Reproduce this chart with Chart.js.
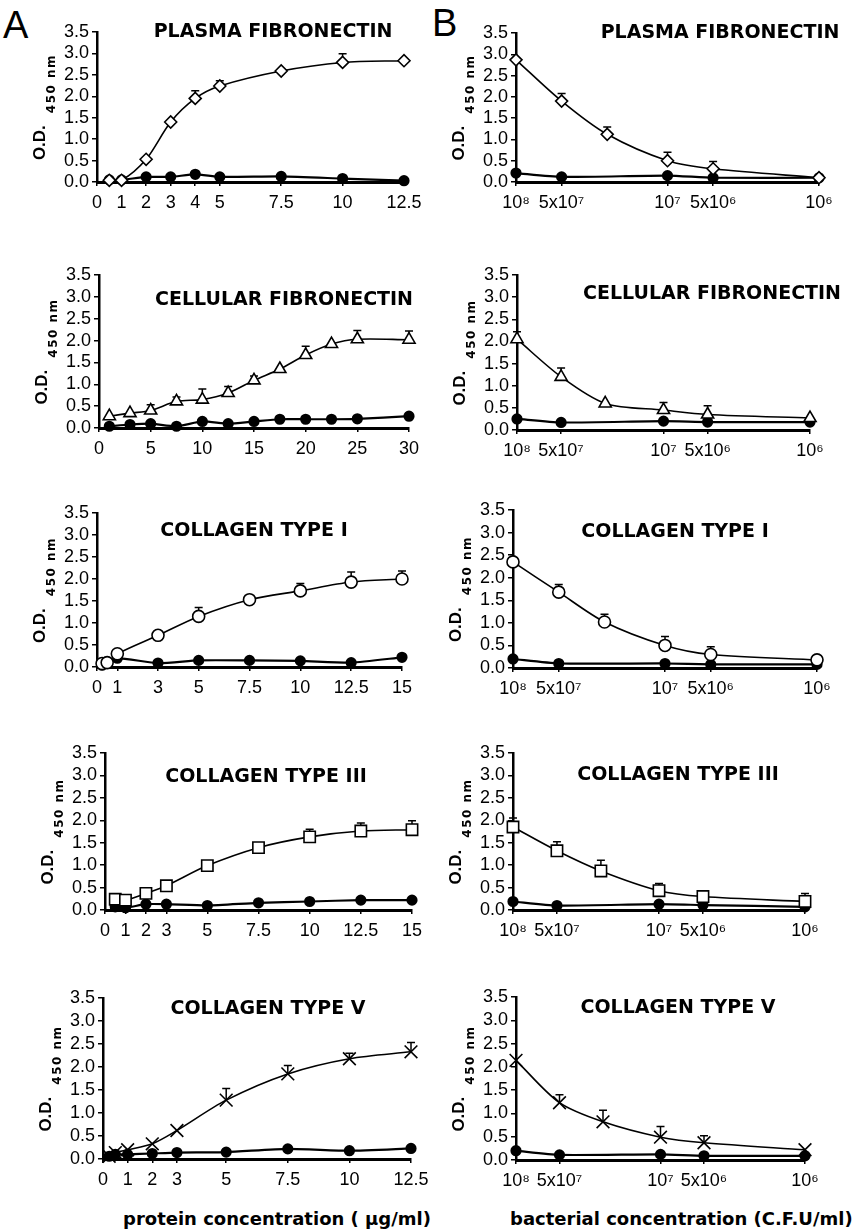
<!DOCTYPE html>
<html>
<head>
<meta charset="utf-8">
<title>Ligação a proteínas da matriz</title>
<script src="https://cdn.jsdelivr.net/npm/chart.js@4.4.1/dist/chart.umd.min.js"></script>
<style>
	body { margin: 0; background: #fff; }
	#figura { position: relative; width: 859px; height: 1232px; overflow: hidden; font-family: 'Liberation Sans', Arial, Helvetica, sans-serif; color: #000; }
	#figura canvas { position: absolute; }
	.letra { position: absolute; font-size: 38px; line-height: 44px; }
	.eixo { position: absolute; font-family: 'DejaVu Sans', sans-serif; font-size: 18px; font-weight: bold; line-height: 22px; white-space: nowrap; }
</style>
</head>
<body>
<div id="figura">
	<div class="letra" style="left:3px;top:3px">A</div>
	<div class="letra" style="left:432px;top:1px">B</div>
	<div class="eixo" style="left:123px;top:1208px">protein concentration ( µg/ml)</div>
	<div class="eixo" style="left:510px;top:1208px">bacterial concentration (C.F.U/ml)</div>
</div>
<script>
// ---- painel A: concentração de proteína (ug/ml) ----
var plasmaFnDoses    = [0.5, 1, 2, 3, 4, 5, 7.5, 10, 12.5];
var plasmaFnTicks    = [0, 1, 2, 3, 4, 5, 7.5, 10, 12.5];
var plasmaFnAmostra  = [0.04, 0.04, 0.53, 1.40, 1.95, 2.24, 2.59, 2.79, 2.83];
var plasmaFnErro     = [0, 0, 0, 0, 0.18, 0.12, 0, 0.2, 0];
var plasmaFnControle = [0.05, 0.05, 0.12, 0.12, 0.18, 0.12, 0.13, 0.08, 0.03];

var celularFnDoses    = [1, 3, 5, 7.5, 10, 12.5, 15, 17.5, 20, 22.5, 25, 30];
var celularFnTicks    = [0, 5, 10, 15, 20, 25, 30];
var celularFnAmostra  = [0.27, 0.34, 0.40, 0.61, 0.65, 0.80, 1.09, 1.35, 1.67, 1.92, 2.03, 2.02];
var celularFnErro     = [0, 0, 0.13, 0.1, 0.24, 0.15, 0.1, 0, 0.2, 0, 0.2, 0.2];
var celularFnControle = [0.04, 0.08, 0.1, 0.04, 0.15, 0.1, 0.15, 0.2, 0.2, 0.2, 0.21, 0.27];

var colTipo1Doses    = [0.25, 0.5, 1, 3, 5, 7.5, 10, 12.5, 15];
var colTipo1Ticks    = [0, 1, 3, 5, 7.5, 10, 12.5, 15];
var colTipo1Amostra  = [0.08, 0.1, 0.3, 0.72, 1.15, 1.53, 1.73, 1.93, 2.0];
var colTipo1Erro     = [0, 0, 0, 0, 0.2, 0, 0.17, 0.23, 0.18];
var colTipo1Controle = [0.04, 0.08, 0.2, 0.09, 0.15, 0.15, 0.14, 0.1, 0.22];

var colTipo3Doses    = [0.5, 1, 2, 3, 5, 7.5, 10, 12.5, 15];
var colTipo3Ticks    = [0, 1, 2, 3, 5, 7.5, 10, 12.5, 15];
var colTipo3Amostra  = [0.24, 0.22, 0.37, 0.54, 0.99, 1.39, 1.63, 1.76, 1.79];
var colTipo3Erro     = [0, 0, 0, 0, 0, 0, 0.17, 0.18, 0.2];
var colTipo3Controle = [0.07, 0.05, 0.13, 0.13, 0.1, 0.16, 0.19, 0.22, 0.22];

var colTipo5Doses    = [0.25, 0.5, 1, 2, 3, 5, 7.5, 10, 12.5];
var colTipo5Ticks    = [0, 1, 2, 3, 5, 7.5, 10, 12.5];
var colTipo5Amostra  = [0.06, 0.14, 0.2, 0.33, 0.62, 1.28, 1.85, 2.18, 2.33];
var colTipo5Erro     = [0, 0, 0, 0, 0, 0.25, 0.18, 0.12, 0.2];
var colTipo5Controle = [0.06, 0.1, 0.1, 0.12, 0.14, 0.15, 0.22, 0.18, 0.23];

// ---- painel B: concentração bacteriana (UFC/ml) ----
var bacteriasUfc     = [1e8, 5e7, 2.5e7, 1e7, 5e6, 1e6];
var bacteriasTicks   = [1e8, 5e7, 1e7, 5e6, 1e6];
var bacteriasRotulos = ['10⁸', '5x10⁷', '10⁷', '5x10⁶', '10⁶'];

var plasmaFnBAmostra  = [2.87, 1.9, 1.12, 0.5, 0.31, 0.1];
var plasmaFnBErro     = [0, 0.18, 0.17, 0.2, 0.17, 0];
var plasmaFnBControle = [0.21, 0.12, null, 0.15, 0.1, 0.1];

var celularFnBAmostra  = [2.05, 1.2, 0.6, 0.45, 0.35, 0.27];
var celularFnBErro     = [0.17, 0.2, 0, 0.17, 0.2, 0];
var celularFnBControle = [0.25, 0.17, null, 0.2, 0.18, 0.18];

var colTipo1BAmostra  = [2.35, 1.68, 1.02, 0.5, 0.3, 0.18];
var colTipo1BErro     = [0, 0.17, 0.17, 0.2, 0.17, 0];
var colTipo1BControle = [0.2, 0.1, null, 0.1, 0.08, 0.08];

var colTipo3BAmostra  = [1.85, 1.32, 0.87, 0.43, 0.3, 0.19];
var colTipo3BErro     = [0.2, 0.2, 0.24, 0.16, 0.1, 0.18];
var colTipo3BControle = [0.19, 0.1, null, 0.13, 0.11, 0.07];

var colTipo5BAmostra  = [2.14, 1.23, 0.82, 0.49, 0.37, 0.22];
var colTipo5BErro     = [0, 0.17, 0.25, 0.23, 0.15, 0];
var colTipo5BControle = [0.2, 0.11, null, 0.12, 0.09, 0.09];

var Figura = Figura || {};

Figura.Painel = (function() {

	var MARGEM_ESQ = 95, MARGEM_TOPO = 20, MARGEM_BASE = 40, MARGEM_DIR = 25, SOBRA = 45;
	var FONTE = "'Liberation Sans', Arial, Helvetica, sans-serif";
	var FONTE_TITULO = "'DejaVu Sans', sans-serif";

	// eixo: [x do eixo y, y de 3.5, x do fim do eixo x, y de 0.0] em pixels da página
	function Painel(cfg) {
		var e = cfg.eixo;
		this.cfg = cfg;
		this.left = e[0] - MARGEM_ESQ;
		this.top = e[1] - MARGEM_TOPO;
		this.canvas = document.createElement('canvas');
		this.canvas.width = (e[2] - e[0]) + MARGEM_ESQ + MARGEM_DIR + SOBRA;
		this.canvas.height = (e[3] - e[1]) + MARGEM_TOPO + MARGEM_BASE;
		this.canvas.style.left = this.left + 'px';
		this.canvas.style.top = this.top + 'px';
		document.getElementById('figura').appendChild(this.canvas);
	}

	Painel.prototype.iniciar = function() {
		var cfg = this.cfg;
		var rotulosX = cfg.rotulosX || cfg.ticksX.map(String);

		var amostra = cfg.x.map(function(v, i) { return { x: v, y: cfg.amostra[i] }; });
		var controle = cfg.x.map(function(v, i) { return { x: v, y: cfg.controle[i] }; });

		new Chart(this.canvas.getContext('2d'), {
			type: 'line',
			data: {
				datasets: [{
					data: amostra,
					borderColor: '#000',
					borderWidth: 1.6,
					tension: 0.3,
					pointStyle: cfg.marcador,
					pointRadius: cfg.raio,
					pointBackgroundColor: '#fff',
					pointBorderColor: '#000',
					pointBorderWidth: 1.6,
					clip: false
				}, {
					data: controle,
					borderColor: '#000',
					borderWidth: 2.2,
					tension: 0.2,
					spanGaps: true,
					pointStyle: 'circle',
					pointRadius: 4.5,
					pointBackgroundColor: '#000',
					pointBorderColor: '#000',
					clip: false
				}]
			},
			options: {
				responsive: false,
				animation: false,
				events: [],
				layout: { padding: { left: 0, top: MARGEM_TOPO, right: MARGEM_DIR + SOBRA, bottom: 0 } },
				plugins: { legend: { display: false }, tooltip: { enabled: false } },
				scales: {
					x: {
						type: cfg.log ? 'logarithmic' : 'linear',
						reverse: !!cfg.log,
						min: Math.min.apply(null, cfg.ticksX),
						max: Math.max.apply(null, cfg.ticksX),
						afterBuildTicks: function(s) {
							s.ticks = cfg.ticksX.map(function(v) { return { value: v }; });
						},
						afterFit: function(s) { s.height = MARGEM_BASE; },
						ticks: {
							autoSkip: false,
							maxRotation: 0,
							minRotation: 0,
							padding: 6,
							color: '#000',
							font: { family: FONTE, size: 18 },
							callback: function(v, i) { return rotulosX[i]; }
						},
						grid: { drawOnChartArea: false, drawTicks: true, tickLength: 4, color: '#000', lineWidth: 1.5 },
						border: { color: '#000', width: 3 }
					},
					y: {
						min: 0,
						max: 3.5,
						afterFit: function(s) { s.width = MARGEM_ESQ; },
						ticks: {
							stepSize: 0.5,
							autoSkip: false,
							padding: 3,
							color: '#000',
							font: { family: FONTE, size: 18 },
							callback: function(v) { return v.toFixed(1); }
						},
						grid: { drawOnChartArea: false, drawTicks: true, tickLength: 5, color: '#000', lineWidth: 1.5 },
						border: { color: '#000', width: 2.5 }
					}
				}
			},
			plugins: [criarBarrasErro(cfg), criarRotulos(cfg, this.left, this.top)]
		});
	};

	// só a metade de cima da barra de erro, com o traço no topo
	function criarBarrasErro(cfg) {
		return {
			id: 'barrasErro',
			beforeDatasetsDraw: function(chart) {
				var ctx = chart.ctx, sx = chart.scales.x, sy = chart.scales.y;
				ctx.save();
				ctx.strokeStyle = '#000';
				ctx.lineWidth = 1.5;
				cfg.erro.forEach(function(e, i) {
					if (!e) return;
					var x = sx.getPixelForValue(cfg.x[i]);
					var y0 = sy.getPixelForValue(cfg.amostra[i]);
					var y1 = sy.getPixelForValue(cfg.amostra[i] + e);
					ctx.beginPath();
					ctx.moveTo(x, y0);
					ctx.lineTo(x, y1);
					ctx.moveTo(x - 4, y1);
					ctx.lineTo(x + 4, y1);
					ctx.stroke();
				});
				ctx.restore();
			}
		};
	}

	function criarRotulos(cfg, left, top) {
		return {
			id: 'rotulos',
			afterDraw: function(chart) {
				var ctx = chart.ctx, area = chart.chartArea;
				ctx.save();
				ctx.fillStyle = '#000';

				ctx.font = 'bold 19px ' + FONTE_TITULO;
				ctx.textAlign = 'center';
				ctx.textBaseline = 'middle';
				ctx.fillText(cfg.titulo, cfg.centroTitulo[0] - left, cfg.centroTitulo[1] - top);

				// O.D. com 450 nm em subscrito, rodado
				ctx.font = 'bold 17px ' + FONTE;
				var w1 = ctx.measureText('O.D.').width;
				ctx.font = 'bold 12px ' + FONTE_TITULO;
				ctx.letterSpacing = '1.5px';
				var w2 = ctx.measureText('450 nm').width;
				var total = w1 + 12 + w2;
				ctx.translate(area.left - 57, (area.top + area.bottom) / 2);
				ctx.rotate(-Math.PI / 2);
				ctx.textAlign = 'left';
				ctx.fillText('450 nm', -total / 2 + w1 + 12, 12);
				ctx.letterSpacing = '0px';
				ctx.font = 'bold 17px ' + FONTE;
				ctx.fillText('O.D.', -total / 2, 0);
				ctx.restore();
			}
		};
	}

	return Painel;

}());

window.addEventListener('load', function() {

	var paineis = [
		{ titulo: 'PLASMA FIBRONECTIN', centroTitulo: [273, 32], eixo: [97, 32, 404, 182],
		  x: plasmaFnDoses, ticksX: plasmaFnTicks, amostra: plasmaFnAmostra, erro: plasmaFnErro, controle: plasmaFnControle,
		  marcador: 'rectRot', raio: 6 },
		{ titulo: 'PLASMA FIBRONECTIN', centroTitulo: [720, 33], eixo: [516, 33, 819, 182], log: true,
		  x: bacteriasUfc, ticksX: bacteriasTicks, rotulosX: bacteriasRotulos, amostra: plasmaFnBAmostra, erro: plasmaFnBErro, controle: plasmaFnBControle,
		  marcador: 'rectRot', raio: 6 },
		{ titulo: 'CELLULAR FIBRONECTIN', centroTitulo: [284, 300], eixo: [99, 275, 409, 428],
		  x: celularFnDoses, ticksX: celularFnTicks, amostra: celularFnAmostra, erro: celularFnErro, controle: celularFnControle,
		  marcador: 'triangle', raio: 7 },
		{ titulo: 'CELLULAR FIBRONECTIN', centroTitulo: [712, 294], eixo: [517, 275, 810, 430], log: true,
		  x: bacteriasUfc, ticksX: bacteriasTicks, rotulosX: bacteriasRotulos, amostra: celularFnBAmostra, erro: celularFnBErro, controle: celularFnBControle,
		  marcador: 'triangle', raio: 7 },
		{ titulo: 'COLLAGEN TYPE I', centroTitulo: [254, 531], eixo: [97, 513, 402, 667],
		  x: colTipo1Doses, ticksX: colTipo1Ticks, amostra: colTipo1Amostra, erro: colTipo1Erro, controle: colTipo1Controle,
		  marcador: 'circle', raio: 6 },
		{ titulo: 'COLLAGEN TYPE I', centroTitulo: [675, 532], eixo: [513, 510, 817, 668], log: true,
		  x: bacteriasUfc, ticksX: bacteriasTicks, rotulosX: bacteriasRotulos, amostra: colTipo1BAmostra, erro: colTipo1BErro, controle: colTipo1BControle,
		  marcador: 'circle', raio: 6 },
		{ titulo: 'COLLAGEN TYPE III', centroTitulo: [266, 777], eixo: [105, 753, 412, 910],
		  x: colTipo3Doses, ticksX: colTipo3Ticks, amostra: colTipo3Amostra, erro: colTipo3Erro, controle: colTipo3Controle,
		  marcador: 'rect', raio: 8 },
		{ titulo: 'COLLAGEN TYPE III', centroTitulo: [678, 775], eixo: [513, 753, 805, 910], log: true,
		  x: bacteriasUfc, ticksX: bacteriasTicks, rotulosX: bacteriasRotulos, amostra: colTipo3BAmostra, erro: colTipo3BErro, controle: colTipo3BControle,
		  marcador: 'rect', raio: 8 },
		{ titulo: 'COLLAGEN TYPE V', centroTitulo: [268, 1009], eixo: [103, 998, 411, 1159],
		  x: colTipo5Doses, ticksX: colTipo5Ticks, amostra: colTipo5Amostra, erro: colTipo5Erro, controle: colTipo5Controle,
		  marcador: 'crossRot', raio: 9 },
		{ titulo: 'COLLAGEN TYPE V', centroTitulo: [678, 1008], eixo: [516, 997, 805, 1160], log: true,
		  x: bacteriasUfc, ticksX: bacteriasTicks, rotulosX: bacteriasRotulos, amostra: colTipo5BAmostra, erro: colTipo5BErro, controle: colTipo5BControle,
		  marcador: 'crossRot', raio: 9 }
	];

	paineis.forEach(function(cfg) {
		new Figura.Painel(cfg).iniciar();
	});

});
</script>
</body>
</html>
